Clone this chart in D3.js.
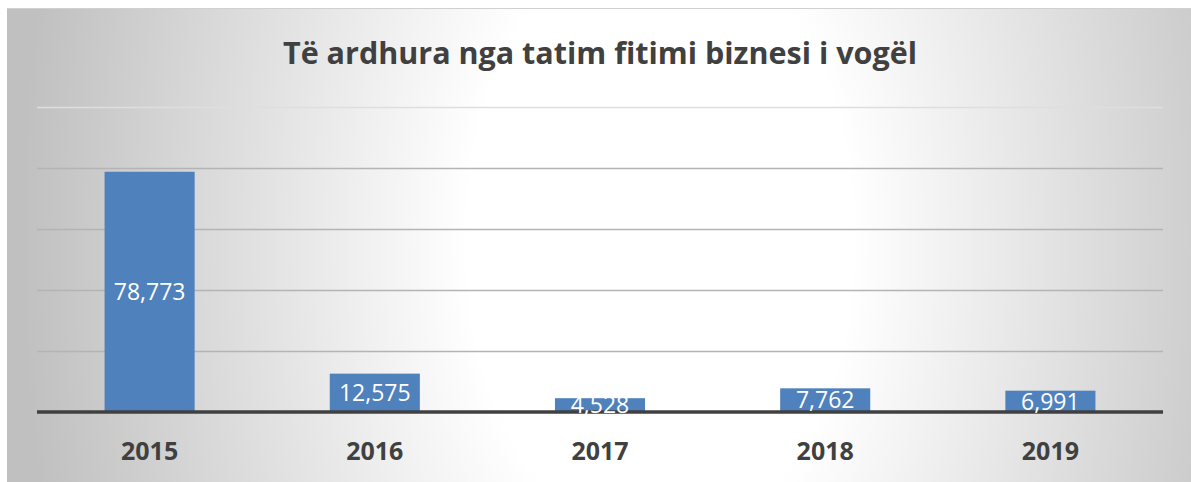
<!DOCTYPE html>
<html>
<head>
<meta charset="utf-8">
<script src="https://cdn.jsdelivr.net/npm/d3@7"></script>
<style>
  body { margin: 0; background: #fff; }
  svg { display: block; }
</style>
</head>
<body>
<svg id="chart"></svg>
<script>
const width = 1191;
const height = 482;

const title = "Të ardhura nga tatim fitimi biznesi i vogël";
const years = ["2015", "2016", "2017", "2018", "2019"];
const values = [78773, 12575, 4528, 7762, 6991];
const gridTicks = [0, 20000, 40000, 60000, 80000, 100000];

const margin = {top: 107, right: 28, bottom: 70, left: 37};

const svg = d3.select("#chart")
    .attr("width", width)
    .attr("height", height);

// Background with radial gradient, like the Excel chart area.
const defs = svg.append("defs");
const grad = defs.append("radialGradient")
    .attr("id", "bg")
    .attr("gradientUnits", "userSpaceOnUse")
    .attr("cx", 660).attr("cy", 240)
    .attr("r", 640)
    .attr("gradientTransform", "translate(0,240) scale(1,1.6) translate(0,-240)");
grad.append("stop").attr("offset", 0).attr("stop-color", "#ffffff");
grad.append("stop").attr("offset", 0.3).attr("stop-color", "#ffffff");
grad.append("stop").attr("offset", 1).attr("stop-color", "#c0c0c0");

svg.append("rect")
    .attr("x", 7).attr("y", 8)
    .attr("width", width - 7).attr("height", height - 8)
    .attr("fill", "url(#bg)");
svg.append("line")
    .attr("x1", 7).attr("x2", width)
    .attr("y1", 8.5).attr("y2", 8.5)
    .attr("stroke", "#d0d0d0");

const x = d3.scaleBand()
    .domain(years)
    .range([margin.left, width - margin.right])
    .paddingInner(0.6)
    .paddingOuter(0.3);

const y = d3.scaleLinear()
    .domain([0, 100000])
    .range([412, 107]);

// Gridlines
svg.append("g")
    .selectAll("line")
    .data(gridTicks.slice(1))
    .join("line")
    .attr("x1", margin.left)
    .attr("x2", width - margin.right)
    .attr("y1", d => Math.round(y(d)) + 0.5)
    .attr("y2", d => Math.round(y(d)) + 0.5)
    .attr("stroke", (d, i) => i === 4 ? "#dedede" : "#b4b4b4")
    .attr("stroke-width", 1.5);

// Bars
svg.append("g")
    .selectAll("rect")
    .data(values)
    .join("rect")
    .attr("x", (d, i) => x(years[i]))
    .attr("y", d => y(d))
    .attr("width", x.bandwidth())
    .attr("height", d => y(0) - y(d))
    .attr("fill", "#4f81bd");

// Baseline axis
svg.append("line")
    .attr("x1", margin.left)
    .attr("x2", width - margin.right)
    .attr("y1", y(0))
    .attr("y2", y(0))
    .attr("stroke", "#404040")
    .attr("stroke-width", 3.5);

// Value labels centered in the bars
svg.append("g")
    .selectAll("text")
    .data(values)
    .join("text")
    .attr("x", (d, i) => x(years[i]) + x.bandwidth() / 2)
    .attr("y", d => (y(d) + y(0)) / 2)
    .attr("dy", "0.36em")
    .attr("text-anchor", "middle")
    .attr("fill", "#ffffff")
    .style("font-family", "'Open Sans', sans-serif")
    .style("font-size", "23px")
    .text(d => d3.format(",")(d));

// Category labels
svg.append("g")
    .selectAll("text")
    .data(years)
    .join("text")
    .attr("x", d => x(d) + x.bandwidth() / 2)
    .attr("y", 460)
    .attr("text-anchor", "middle")
    .attr("fill", "#404040")
    .style("font-family", "'Open Sans', sans-serif")
    .style("font-weight", "bold")
    .style("font-size", "25px")
    .text(d => d);

// Title
const titleText = svg.append("text")
    .attr("x", 600)
    .attr("y", 64)
    .attr("text-anchor", "middle")
    .attr("fill", "#404040")
    .style("font-family", "'Open Sans', sans-serif")
    .style("font-weight", "bold")
    .style("font-size", "28px")
    .text(title);
const tw = titleText.node().getComputedTextLength();
titleText.style("font-size", (28 * 633 / tw).toFixed(1) + "px");
</script>
</body>
</html>
